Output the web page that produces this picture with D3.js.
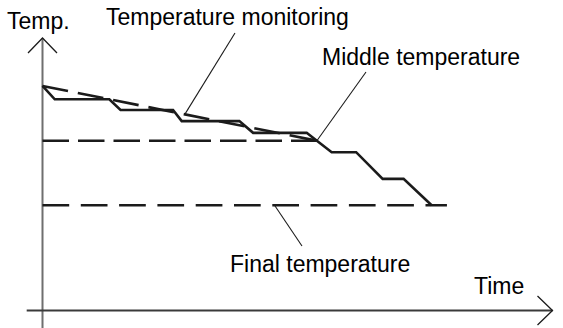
<!DOCTYPE html>
<html>
<head>
<meta charset="utf-8">
<script src="https://cdn.jsdelivr.net/npm/d3@7/dist/d3.min.js"></script>
<style>
  html, body { margin: 0; padding: 0; background: #fff; }
  svg { display: block; }
  text { font-family: "Liberation Sans", Arial, sans-serif; font-size: 23px; fill: #000; }
</style>
</head>
<body>
<svg id="chart" width="563" height="328"></svg>
<script>
// Measured temperature: stepwise cooling curve (time, temperature in relative units)
const stepTime = [0, 2.4, 13.1, 15.3, 25.6, 27.3, 38.6, 41.3, 51.8, 53.8, 56.7, 61.5, 66.7, 70.8, 76.3];
const stepTemp = [82.4, 77.5, 77.5, 73.6, 73.6, 69.5, 69.5, 65.2, 65.2, 62.3, 58.1, 58.1, 48.3, 48.3, 38.6];

// Ideal cooling trend followed while monitoring
const trendTime = [0, 53.8];
const trendTemp = [82.4, 62.3];

// Reference temperatures
const middleTemp = 62.3;
const middleEnd = 53.8;
const finalTemp = 38.6;
const finalEnd = 79.3;

// Axis captions and annotation labels
const axisLabels = ["Temp.", "Time"];
const annotationLabels = ["Temperature monitoring", "Middle temperature", "Final temperature"];

const svg = d3.select("#chart");
const x = d3.scaleLinear().domain([0, 100]).range([42.5, 552.5]);
const y = d3.scaleLinear().domain([0, 100]).range([310.5, 38]);

const ink = "#1b1b1b";

// Axes with arrowheads
svg.append("line")
  .attr("x1", x(0)).attr("x2", x(0))
  .attr("y1", y(-7)).attr("y2", y(100))
  .attr("stroke", "#6f6f6f").attr("stroke-width", 2);
svg.append("line")
  .attr("x1", x(-3.1)).attr("x2", x(100))
  .attr("y1", y(0)).attr("y2", y(0))
  .attr("stroke", "#3a3a3a").attr("stroke-width", 2);

const head = 15, half = 14.5;
svg.append("path")
  .attr("d", `M${x(0) - half},${y(100) + head} L${x(0)},${y(100)} L${x(0) + half},${y(100) + head}`)
  .attr("fill", "none").attr("stroke", ink).attr("stroke-width", 1.3);
svg.append("path")
  .attr("d", `M${x(100) - head},${y(0) - half} L${x(100)},${y(0)} L${x(100) - head},${y(0) + half}`)
  .attr("fill", "none").attr("stroke", ink).attr("stroke-width", 1.3);

// Reference temperature lines
svg.append("line")
  .attr("x1", x(0)).attr("x2", x(middleEnd))
  .attr("y1", y(middleTemp)).attr("y2", y(middleTemp))
  .attr("stroke", ink).attr("stroke-width", 2.6)
  .attr("stroke-dasharray", "26.5,9");
svg.append("line")
  .attr("x1", x(0)).attr("x2", x(finalEnd))
  .attr("y1", y(finalTemp)).attr("y2", y(finalTemp))
  .attr("stroke", ink).attr("stroke-width", 2.6)
  .attr("stroke-dasharray", "26.7,11.6");

// Ideal trend (dashed)
const line = d3.line().x(d => x(d[0])).y(d => y(d[1]));
svg.append("path")
  .attr("d", line(d3.zip(trendTime, trendTemp)))
  .attr("fill", "none").attr("stroke", ink).attr("stroke-width", 2.6)
  .attr("stroke-dasharray", "26,10");

// Measured stepwise curve
svg.append("path")
  .attr("d", line(d3.zip(stepTime, stepTemp)))
  .attr("fill", "none").attr("stroke", ink).attr("stroke-width", 2.6)
  .attr("stroke-linejoin", "miter");

// Leader lines: label end in page units, other end on the curve
const trendAt = t => trendTemp[0] + (trendTemp[1] - trendTemp[0]) * t / trendTime[1];
const leaders = [
  { from: [235, 33], to: [x(27.9), y(trendAt(27.9))] },
  { from: [366, 72], to: [x(middleEnd), y(middleTemp)] },
  { from: [302, 246], to: [x(45.5), y(finalTemp)] }
];
svg.selectAll("line.leader").data(leaders).enter().append("line")
  .attr("class", "leader")
  .attr("x1", d => d.from[0]).attr("y1", d => d.from[1])
  .attr("x2", d => d.to[0]).attr("y2", d => d.to[1])
  .attr("stroke", ink).attr("stroke-width", 1.1);

// Text
const textPos = [
  { t: axisLabels[0], x: 7, y: 29 },
  { t: axisLabels[1], x: 474, y: 294 },
  { t: annotationLabels[0], x: 106, y: 25 },
  { t: annotationLabels[1], x: 322, y: 65 },
  { t: annotationLabels[2], x: 230, y: 272 }
];
svg.selectAll("text.lbl").data(textPos).enter().append("text")
  .attr("class", "lbl")
  .attr("x", d => d.x).attr("y", d => d.y)
  .text(d => d.t);
</script>
</body>
</html>
